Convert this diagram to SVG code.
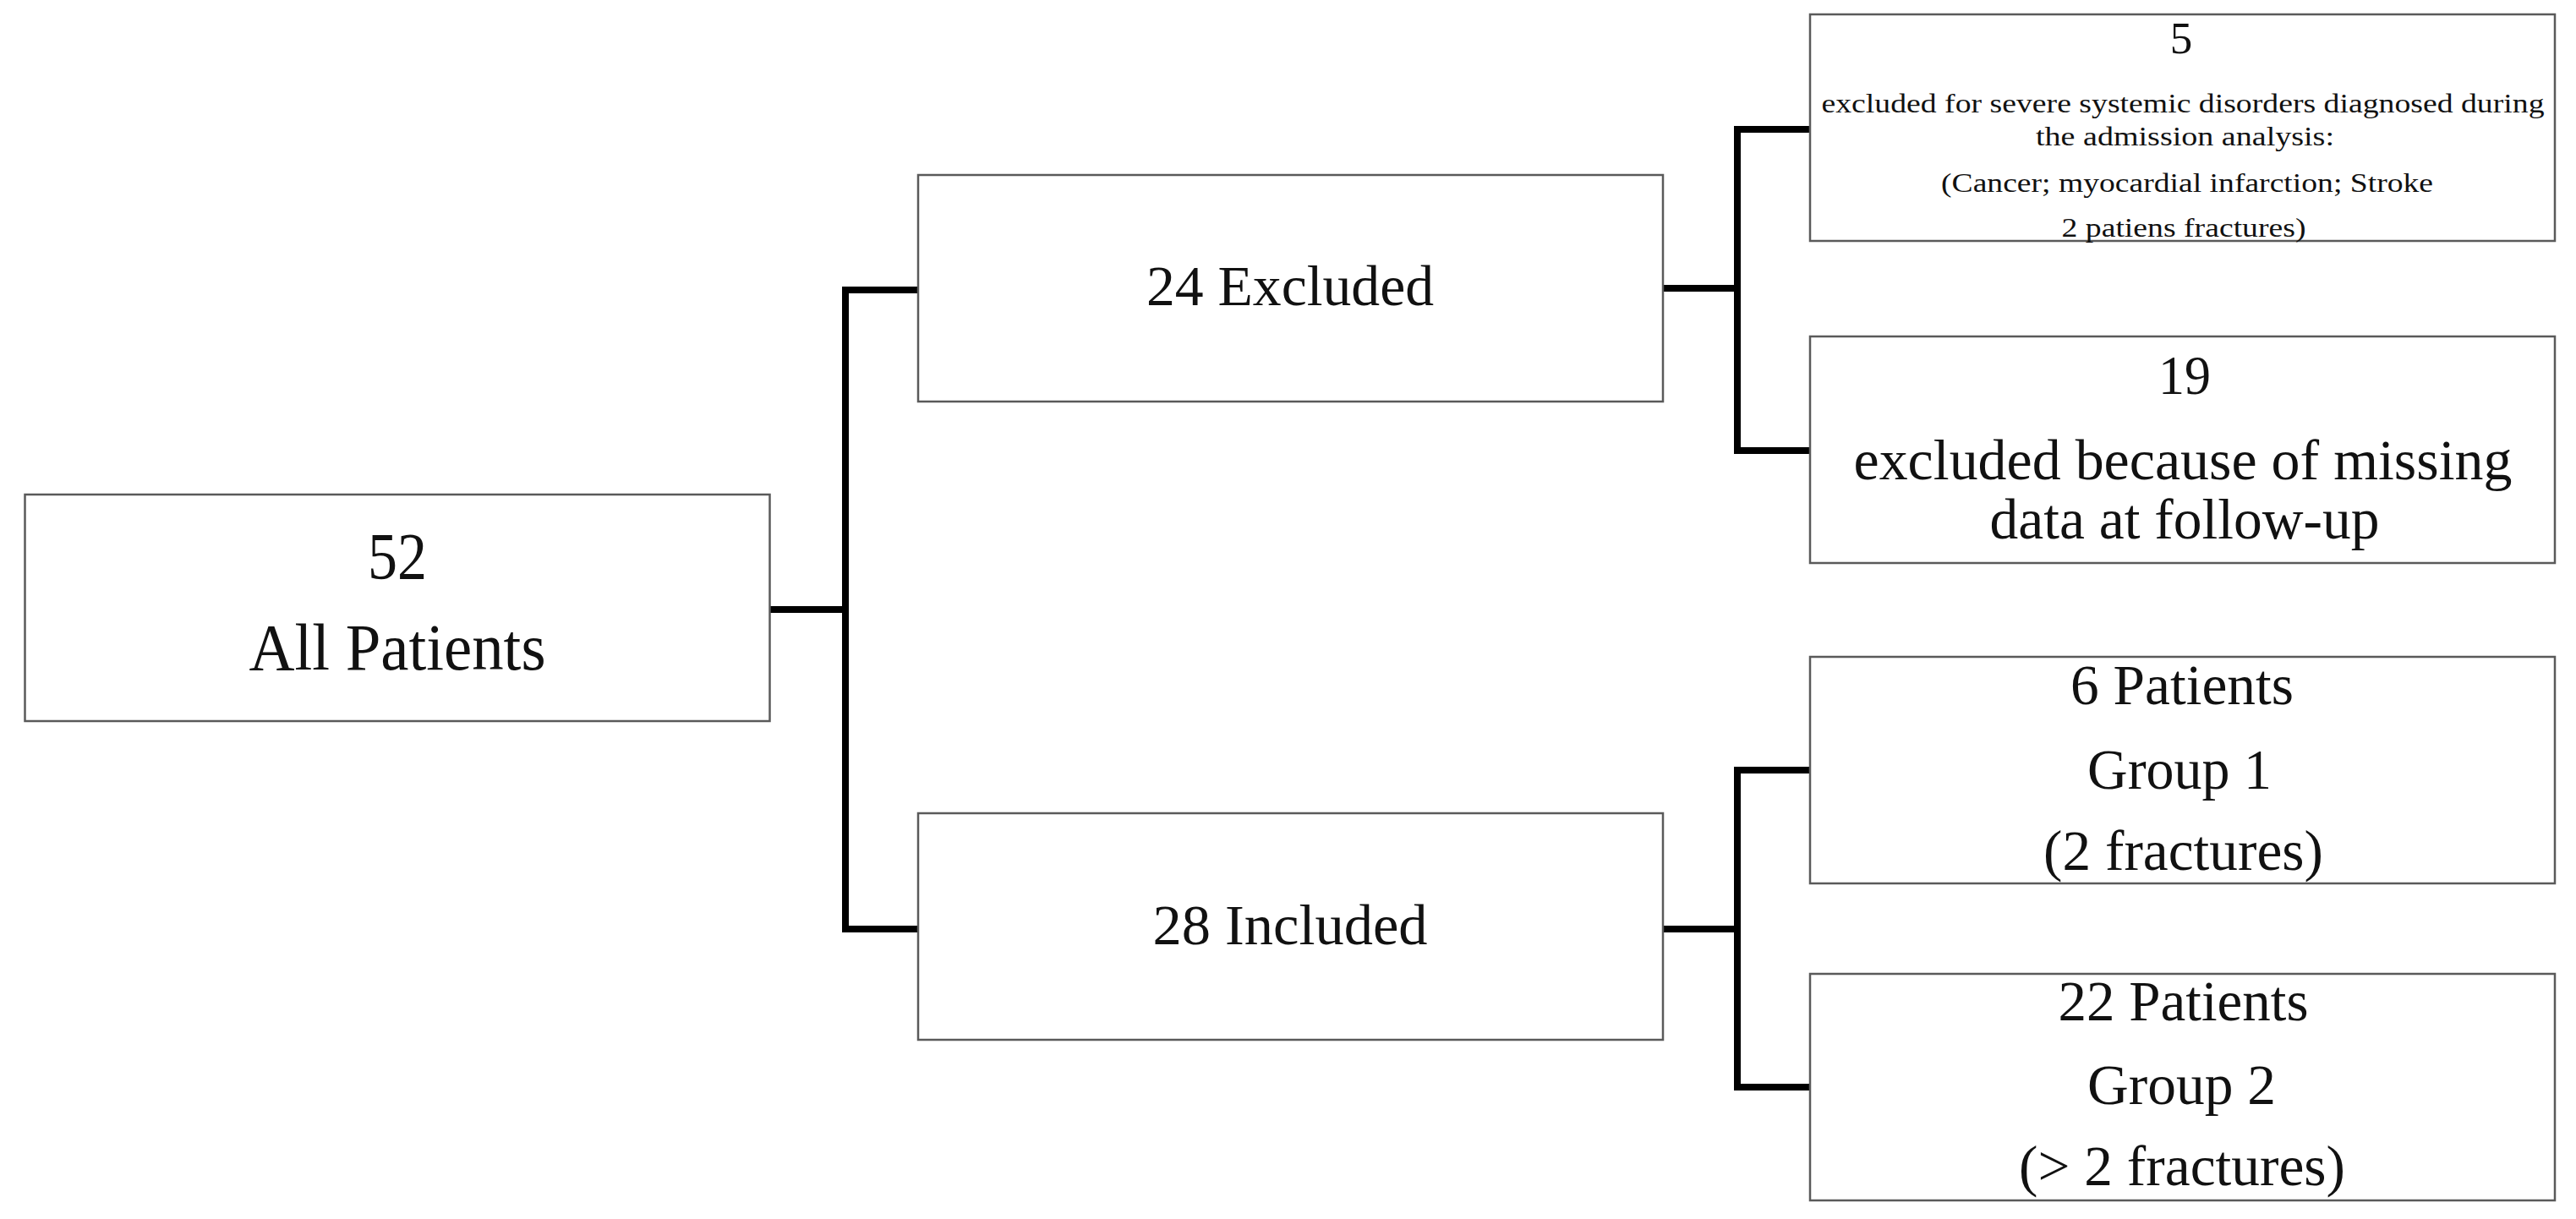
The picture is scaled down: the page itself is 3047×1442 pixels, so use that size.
<svg xmlns="http://www.w3.org/2000/svg" width="3047" height="1442" viewBox="0 0 3047 1442">
  <style>
    .box { fill: #ffffff; stroke: #5a5a5a; stroke-width: 2.5; }
    .t { font-family: 'Liberation Serif', 'DejaVu Serif', serif; fill: #111111; text-anchor: middle; }
    .big { font-size: 78px; }
    .mid { font-size: 68px; }
    .small { font-size: 32px; }
    .conn { fill: none; stroke: #000000; stroke-width: 8; stroke-linejoin: miter; stroke-linecap: butt; }
  </style>
  <rect width="3047" height="1442" fill="#ffffff"/>

  <g id="connectors">
    <path class="conn" d="M 910 721 H 1000"/>
    <path class="conn" d="M 1087 343 H 1000 V 1099 H 1087"/>
    <path class="conn" d="M 1967 341 H 2055"/>
    <path class="conn" d="M 2141 153 H 2055 V 533 H 2141"/>
    <path class="conn" d="M 1967 1099 H 2055"/>
    <path class="conn" d="M 2141 911 H 2055 V 1286 H 2141"/>
  </g>

  <g id="all-patients">
    <rect class="box" x="29.5" y="585" width="881" height="268"/>
    <text class="t big" x="470" y="684" textLength="70" lengthAdjust="spacingAndGlyphs">52</text>
    <text class="t big" x="470" y="792" textLength="351" lengthAdjust="spacingAndGlyphs">All Patients</text>
  </g>

  <g id="excluded">
    <rect class="box" x="1086" y="207" width="881" height="268"/>
    <text class="t mid" x="1526" y="361" textLength="340" lengthAdjust="spacingAndGlyphs">24 Excluded</text>
  </g>

  <g id="included">
    <rect class="box" x="1086" y="962" width="881" height="268"/>
    <text class="t mid" x="1526" y="1117" textLength="325" lengthAdjust="spacingAndGlyphs">28 Included</text>
  </g>

  <g id="excluded-systemic">
    <rect class="box" x="2141" y="17" width="881" height="268"/>
    <text class="t" style="font-size:53px" x="2580" y="63">5</text>
    <text class="t small" x="2582" y="133" textLength="855" lengthAdjust="spacingAndGlyphs">excluded for severe systemic disorders diagnosed during</text>
    <text class="t small" x="2584.5" y="172" textLength="353" lengthAdjust="spacingAndGlyphs">the admission analysis:</text>
    <text class="t small" x="2587" y="227" textLength="582" lengthAdjust="spacingAndGlyphs">(Cancer; myocardial infarction; Stroke</text>
    <text class="t small" x="2583" y="280" textLength="289" lengthAdjust="spacingAndGlyphs">2 patiens fractures)</text>
  </g>

  <g id="excluded-missing">
    <rect class="box" x="2141" y="398" width="881" height="268"/>
    <text class="t" style="font-size:66px" x="2584" y="466" textLength="62" lengthAdjust="spacingAndGlyphs">19</text>
    <text class="t mid" x="2582" y="567" textLength="779" lengthAdjust="spacingAndGlyphs">excluded because of missing</text>
    <text class="t mid" x="2584" y="637" textLength="461" lengthAdjust="spacingAndGlyphs">data at follow-up</text>
  </g>

  <g id="group1">
    <rect class="box" x="2141" y="777" width="881" height="268"/>
    <text class="t mid" x="2581" y="833" textLength="264" lengthAdjust="spacingAndGlyphs">6 Patients</text>
    <text class="t mid" x="2578" y="933" textLength="218" lengthAdjust="spacingAndGlyphs">Group 1</text>
    <text class="t mid" x="2582.5" y="1029" textLength="331" lengthAdjust="spacingAndGlyphs">(2 fractures)</text>
  </g>

  <g id="group2">
    <rect class="box" x="2141" y="1152" width="881" height="268"/>
    <text class="t mid" x="2582.5" y="1207" textLength="296" lengthAdjust="spacingAndGlyphs">22 Patients</text>
    <text class="t mid" x="2580.5" y="1306" textLength="223" lengthAdjust="spacingAndGlyphs">Group 2</text>
    <text class="t mid" x="2581" y="1402" textLength="386" lengthAdjust="spacingAndGlyphs">(&gt; 2 fractures)</text>
  </g>
</svg>
